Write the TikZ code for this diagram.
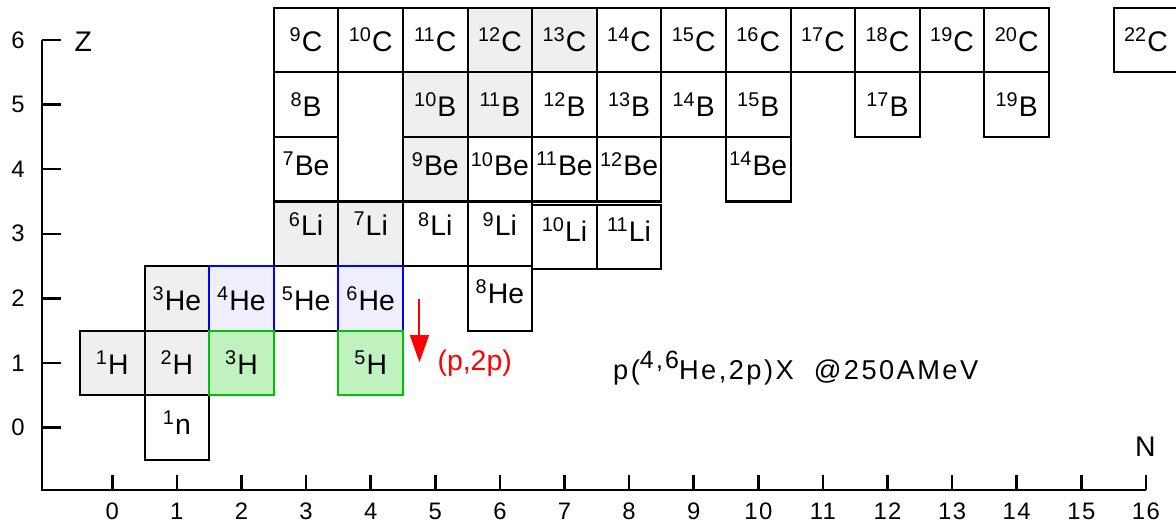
\documentclass[tikz,border=0pt]{standalone}
\usepackage{fontspec}
\setmainfont{Liberation Sans}
\newfontfamily\widesans[LetterSpace=6]{Liberation Sans}
\newfontfamily\widersans[LetterSpace=9]{Liberation Sans}
\usetikzlibrary{arrows.meta,positioning}
\newcommand{\iso}[2]{\textsuperscript{#1}#2}
\definecolor{stablegray}{HTML}{EFEFEF}
\definecolor{beamblue}{HTML}{EEEEFC}
\definecolor{fragfill}{HTML}{C0F2C0}
\definecolor{fragedge}{HTML}{00C000}

\begin{document}
\begin{tikzpicture}[every node/.style={font=\fontsize{12.5}{14}\selectfont},
        nuc/.style={draw, line width=0.9pt, minimum size=1cm, inner sep=0pt},
        stable/.style={nuc, fill=stablegray},
        beam/.style={nuc, draw=blue, fill=beamblue},
        frag/.style={nuc, draw=fragedge, fill=fragfill},
        lift/.style={text depth=#1},
        axis/.style={line width=1.1pt},
        ticklbl/.style={font=\widesans\fontsize{10.5}{12}\selectfont},
        axlbl/.style={font=\fontsize{12.5}{14}\selectfont},
        arr/.style={-{Triangle[length=4.2mm, width=2.9mm]}, line width=0.9pt, red}]
        \useasboundingbox (-1.738,-1.477) rectangle (16.466,6.619);
        \draw[axis] (-1.088,6) -- (-1.088,-0.966) -- (16,-0.966);
        \foreach \z in {0,...,6}
          \draw[axis] (-1.088,\z) -- (-0.8,\z) node[ticklbl] at (-1.46,\z) {\z};
        \foreach \n in {0,...,16}
          \draw[axis] (\n,-0.966) -- (\n,-0.73) node[ticklbl] at (\n,-1.3) {\n};
        \node[axlbl] (zname) at (-0.45,5.98) {Z};
        \node[axlbl] (nname) at (15.99,-0.3) {N};
        \node[nuc] (C9) at (3,6) {\iso{9}{C}};
        \node[nuc] (C10) at (4,6) {\iso{10}{C}};
        \node[nuc] (C11) at (5,6) {\iso{11}{C}};
        \node[stable] (C12) at (6,6) {\iso{12}{C}};
        \node[stable] (C13) at (7,6) {\iso{13}{C}};
        \node[nuc] (C14) at (8,6) {\iso{14}{C}};
        \node[nuc] (C15) at (9,6) {\iso{15}{C}};
        \node[nuc] (C16) at (10,6) {\iso{16}{C}};
        \node[nuc] (C17) at (11,6) {\iso{17}{C}};
        \node[nuc] (C18) at (12,6) {\iso{18}{C}};
        \node[nuc] (C19) at (13,6) {\iso{19}{C}};
        \node[nuc] (C20) at (14,6) {\iso{20}{C}};
        \node[nuc] (C22) at (16,6) {\iso{22}{C}};
        \node[nuc] (B8) at (3,5) {\iso{8}{B}};
        \node[stable] (B10) at (5,5) {\iso{10}{B}};
        \node[stable] (B11) at (6,5) {\iso{11}{B}};
        \node[nuc] (B12) at (7,5) {\iso{12}{B}};
        \node[nuc] (B13) at (8,5) {\iso{13}{B}};
        \node[nuc] (B14) at (9,5) {\iso{14}{B}};
        \node[nuc] (B15) at (10,5) {\iso{15}{B}};
        \node[nuc] (B17) at (12,5) {\iso{17}{B}};
        \node[nuc] (B19) at (14,5) {\iso{19}{B}};
        \node[nuc, lift=0.16cm] (Be7) at (3,4) {\iso{7}{Be}};
        \node[stable, lift=0.16cm] (Be9) at (5,4) {\iso{9}{Be}};
        \node[nuc, lift=0.16cm] (Be10) at (6,4) {\iso{10}{Be}};
        \node[nuc, lift=0.16cm] (Be11) at (7,4) {\iso{11}{Be}};
        \node[nuc, lift=0.16cm] (Be12) at (8,4) {\iso{12}{Be}};
        \node[nuc, lift=0.16cm] (Be14) at (10,4) {\iso{14}{Be}};
        \node[stable, lift=0.3cm] (Li6) at (3,3) {\iso{6}{Li}};
        \node[stable, lift=0.3cm] (Li7) at (4,3) {\iso{7}{Li}};
        \node[nuc, lift=0.3cm] (Li8) at (5,3) {\iso{8}{Li}};
        \node[nuc, lift=0.3cm] (Li9) at (6,3) {\iso{9}{Li}};
        \node[nuc, lift=0.24cm] (Li10) at (7,2.95) {\iso{10}{Li}};
        \node[nuc, lift=0.24cm] (Li11) at (8,2.95) {\iso{11}{Li}};
        \node[stable] (He3) at (1,2) {\iso{3}{He}};
        \node[nuc] (He5) at (3,2) {\iso{5}{He}};
        \node[nuc, lift=0.2cm] (He8) at (6,2) {\iso{8}{He}};
        \node[stable] (H1) at (0,1) {\iso{1}{H}};
        \node[stable] (H2) at (1,1) {\iso{2}{H}};
        \node[nuc, lift=0.16cm] (n1) at (1,0) {\iso{1}{n}};
        \node[beam] (He4) at (2,2) {\iso{4}{He}};
        \node[beam] (He6) at (4,2) {\iso{6}{He}};
        \node[frag] (H3) at (2,1) {\iso{3}{H}};
        \node[frag] (H5) at (4,1) {\iso{5}{H}};
        \coordinate (knockout) at (4.755,1.99);
        \coordinate (knockend) at (4.755,1.01);
        \draw[arr] (knockout) -- (knockend);
        \node[text=red] (p2p) at (5.61,0.99) {(p,2p)};
        \node[font=\widersans\fontsize{12}{14}\selectfont] (reaction) at (10.58,0.92)
          {p(\raisebox{0.42em}{\fontsize{11}{12}\selectfont 4,6}He,2p)X\ \ @250AMeV};
      \end{tikzpicture}
\end{document}
